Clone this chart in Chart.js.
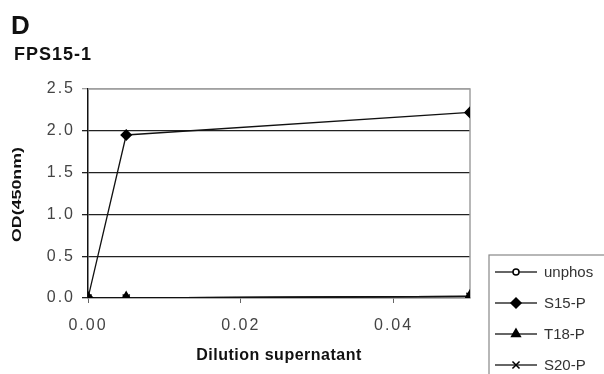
<!DOCTYPE html>
<html>
<head>
<meta charset="utf-8">
<script src="https://cdn.jsdelivr.net/npm/chart.js@4/dist/chart.umd.min.js"></script>
<style>
  html, body { margin: 0; padding: 0; background: #fff; }
  #wrap { position: relative; width: 604px; height: 374px; }
</style>
</head>
<body>
<div id="wrap"><canvas id="odChart" width="604" height="374"></canvas></div>
<script>
// ===== Data =====
const dilution = [0, 0.005, 0.05];
const unphos = [0, 0, 0.02];
const s15p = [0, 1.95, 2.22];
const t18p = [0, 0, 0.02];
const s20p = [0, 0, 0.02];
const seriesNames = ['unphos', 'S15-P', 'T18-P', 'S20-P'];
const xTicks = [0, 0.02, 0.04];
const yTicks = [0, 0.5, 1.0, 1.5, 2.0, 2.5];

const FONT = 'Liberation Sans, Arial, Helvetica, sans-serif';
const pts = (ys) => dilution.map((x, i) => ({ x: x, y: ys[i] }));

// lower order = drawn on top
const styles = [
    { pointStyle: 'circle', pointRadius: 3, pointBackgroundColor: '#fff', order: 3 },
    { pointStyle: 'rectRot', pointRadius: 5, pointBackgroundColor: '#000', order: 0 },
    { pointStyle: 'triangle', pointRadius: 6, pointBackgroundColor: '#000', order: 1 },
    { pointStyle: 'crossRot', pointRadius: 5, pointBackgroundColor: '#000', order: 2 }
];

const datasets = [unphos, s15p, t18p, s20p].map((ys, i) => ({
    label: seriesNames[i],
    data: pts(ys),
    borderColor: '#111',
    borderWidth: 1.3,
    pointBorderColor: '#000',
    pointBorderWidth: 1.5,
    ...styles[i]
}));

// ===== Plugins: titles, frame, legend =====
const extras = {
    id: 'extras',
    beforeDraw(chart) {
        // tick labels in the original are widely spaced
        chart.ctx.letterSpacing = '2px';
    },
    beforeDatasetsDraw(chart) {
        const c = chart.ctx, a = chart.chartArea;
        c.save();
        c.strokeStyle = '#a0a0a0';
        c.lineWidth = 1.5;
        c.beginPath();
        c.moveTo(a.left, a.top);
        c.lineTo(a.right, a.top);
        c.lineTo(a.right, a.bottom);
        c.stroke();
        c.restore();
    },
    afterDraw(chart) {
        const c = chart.ctx, a = chart.chartArea;
        c.save();
        c.fillStyle = '#111';
        c.textBaseline = 'alphabetic';
        c.textAlign = 'left';
        c.letterSpacing = '0px';
        c.font = 'bold 26px ' + FONT;
        c.fillText('D', 11, 34);
        c.letterSpacing = '1px';
        c.font = 'bold 18px ' + FONT;
        c.fillText('FPS15-1', 14, 60);

        // x axis title
        c.letterSpacing = '0.5px';
        c.textAlign = 'center';
        c.textBaseline = 'middle';
        c.font = 'bold 16px ' + FONT;
        c.fillText('Dilution supernatant', (a.left + a.right) / 2, 356);

        // y axis title, stretched like the original
        c.save();
        c.letterSpacing = '0px';
        c.translate(17, (a.top + a.bottom) / 2 + 1);
        c.rotate(-Math.PI / 2);
        c.scale(1.37, 1);
        c.font = 'bold 13px ' + FONT;
        c.fillText('OD(450nm)', 0, 0);
        c.restore();

        // legend box
        c.letterSpacing = '0px';
        c.strokeStyle = '#888';
        c.lineWidth = 1.2;
        c.strokeRect(489, 255, 130, 130);
        chart.data.datasets.forEach((ds, i) => {
            const y = 272 + i * 31;
            c.strokeStyle = '#333';
            c.lineWidth = 1.3;
            c.beginPath();
            c.moveTo(495, y);
            c.lineTo(537, y);
            c.stroke();
            c.fillStyle = ds.pointBackgroundColor;
            c.strokeStyle = '#000';
            c.lineWidth = 1.5;
            Chart.helpers.drawPoint(c, {
                pointStyle: ds.pointStyle,
                radius: Math.min(ds.pointRadius, 5),
                rotation: 0,
                borderWidth: 1.5
            }, 516, y);
            c.fillStyle = '#333';
            c.font = '15px ' + FONT;
            c.textAlign = 'left';
            c.textBaseline = 'middle';
            c.fillText(ds.label, 544, y + 1);
        });
        c.restore();
    }
};

new Chart(document.getElementById('odChart'), {
    type: 'line',
    data: { datasets },
    options: {
        responsive: false,
        animation: false,
        layout: { padding: { top: 89, right: 134, left: 0, bottom: 0 } },
        plugins: { legend: { display: false }, tooltip: { enabled: false } },
        scales: {
            x: {
                type: 'linear',
                min: 0,
                max: 0.05,
                afterBuildTicks: (s) => { s.ticks = xTicks.map(v => ({ value: v })); },
                afterFit: (s) => { s.height = 76; },
                grid: { drawOnChartArea: false, drawTicks: true, tickLength: 5, color: '#666' },
                border: { color: '#999', width: 1.5 },
                ticks: {
                    padding: 13,
                    color: '#444',
                    font: { family: FONT, size: 16 },
                    callback: (v) => Number(v).toFixed(2),
                    maxRotation: 0
                },
                title: { display: false }
            },
            y: {
                min: 0,
                max: 2.5,
                afterBuildTicks: (s) => { s.ticks = yTicks.map(v => ({ value: v })); },
                afterFit: (s) => { s.width = 88; },
                grid: {
                    color: (c) => (c.tick && c.tick.value === 2.5) ? '#a0a0a0' : '#222',
                    lineWidth: 1.3,
                    tickLength: 6
                },
                border: { color: '#111', width: 1.5 },
                ticks: {
                    padding: 7,
                    color: '#444',
                    font: { family: FONT, size: 16 },
                    callback: (v) => Number(v).toFixed(1)
                },
                title: { display: false }
            }
        }
    },
    plugins: [extras]
});
</script>
</body>
</html>
